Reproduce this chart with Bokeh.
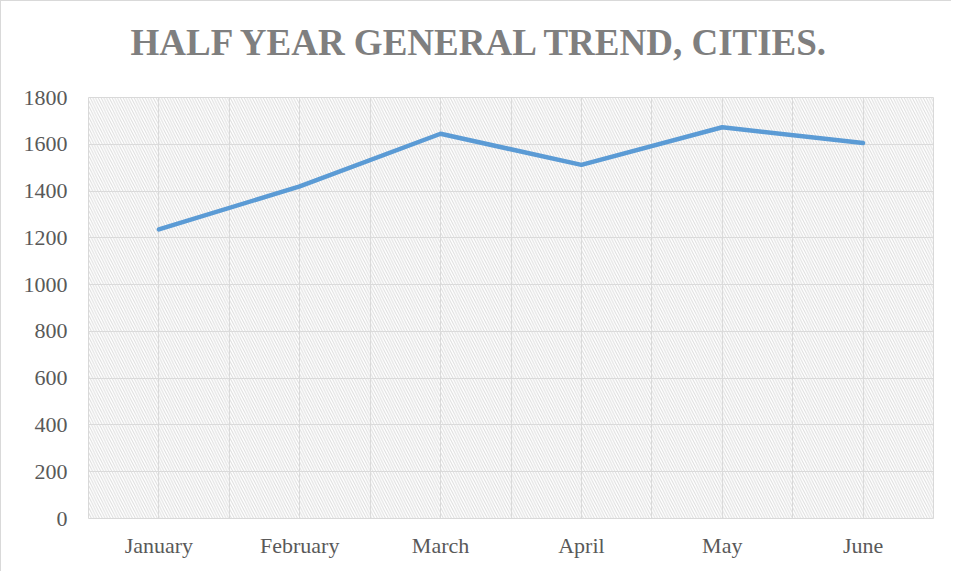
from bokeh.plotting import figure
from bokeh.models import FixedTicker, BoxAnnotation, Range1d, Title
from bokeh.embed import file_html
from bokeh.resources import INLINE

title_text = "HALF YEAR GENERAL TREND, CITIES."
months = ["January", "February", "March", "April", "May", "June"]
values = [1236, 1420, 1645, 1512, 1673, 1605]
y_ticks = [0, 200, 400, 600, 800, 1000, 1200, 1400, 1600, 1800]

xs = [i + 0.5 for i in range(len(months))]

p = figure(width=951, height=571, output_backend="svg", toolbar_location=None, title=None,
           x_range=Range1d(0, len(months)), y_range=Range1d(0, 1800),
           min_border_left=87, min_border_right=19, min_border_top=96, min_border_bottom=54)

# thin spacer placed right above the frame, then the real title above it
spacer = Title(text=" ", text_font_size="1px", standoff=31)
p.add_layout(spacer, "above")
main_title = Title(text=title_text, text_font="Liberation Serif", text_font_style="bold",
                   text_font_size="37px", text_color="#7F7F7F", align="left",
                   vertical_align="middle", standoff=0, offset=42)
p.add_layout(main_title, "above")

p.styles = {"border-left": "1px solid #D9D9D9", "border-top": "1px solid #D9D9D9"}

p.background_fill_color = "white"
p.border_fill_color = "white"
p.outline_line_color = "#D9D9D9"
p.outline_line_width = 1

hatch = BoxAnnotation(fill_alpha=0, line_alpha=0, hatch_pattern="left_diagonal_line",
                      hatch_color="#DCDCDC", hatch_scale=5.5, hatch_weight=1, level="underlay")
p.add_layout(hatch)

p.line(xs, values, line_color="#5B9BD5", line_width=4.5, line_cap="round", line_join="round")

p.xaxis.ticker = FixedTicker(ticks=xs)
p.xaxis.major_label_overrides = {x: m for x, m in zip(xs, months)}
p.yaxis.ticker = FixedTicker(ticks=y_ticks)

for ax in (p.xaxis[0], p.yaxis[0]):
    ax.axis_line_color = None
    ax.major_tick_line_color = None
    ax.minor_tick_line_color = None
    ax.major_tick_out = 0
    ax.major_tick_in = 0
    ax.major_label_text_font = "Liberation Serif"
    ax.major_label_text_font_size = "22px"
    ax.major_label_text_color = "#595959"

p.xaxis.major_label_standoff = 14
p.yaxis.major_label_standoff = 21

p.xgrid.ticker = FixedTicker(ticks=[i * 0.5 for i in range(2 * len(months) + 1)])
p.ygrid.ticker = FixedTicker(ticks=y_ticks)
p.xgrid.grid_line_color = "#D9D9D9"
p.ygrid.grid_line_color = "#D9D9D9"
p.xgrid.grid_line_width = 1
p.ygrid.grid_line_width = 1

open("out.html", "w").write(file_html(p, INLINE))
